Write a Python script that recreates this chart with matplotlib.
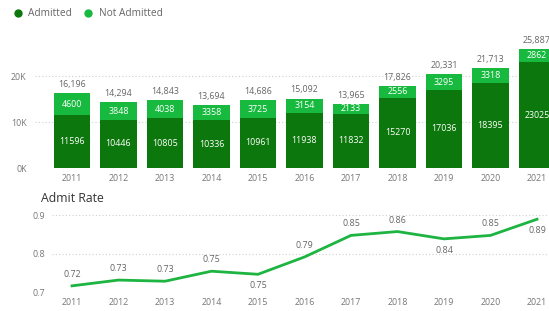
import matplotlib
matplotlib.use("Agg")
import matplotlib.pyplot as plt
from matplotlib.lines import Line2D

plt.rcParams['font.family'] = ['Open Sans', 'DejaVu Sans']

years = ['2011', '2012', '2013', '2014', '2015', '2016', '2017', '2018', '2019', '2020', '2021']
admitted = [11596, 10446, 10805, 10336, 10961, 11938, 11832, 15270, 17036, 18395, 23025]
not_admitted = [4600, 3848, 4038, 3358, 3725, 3154, 2133, 2556, 3295, 3318, 2862]
totals = [16196, 14294, 14843, 13694, 14686, 15092, 13965, 17826, 20331, 21713, 25887]
admit_rate = [0.716, 0.731, 0.728, 0.754, 0.746, 0.791, 0.847, 0.857, 0.838, 0.847, 0.889]
rate_label_pos = ['above', 'above', 'above', 'above', 'below', 'above', 'above', 'above', 'below', 'above', 'below']

DARK = '#0c770c'
LIGHT = '#17b93f'
LINE = '#1db441'
TICK = '#777777'
GRID = '#cfcfcf'

W, H = 549, 311
fig = plt.figure(figsize=(W / 100, H / 100), dpi=100)

def px_axes(left, top, right, bottom):
    return fig.add_axes([left / W, 1 - bottom / H, (right - left) / W, (bottom - top) / H])

x = list(range(len(years)))
spacing = 46.5
x0 = 72

# ---- top bar chart ----
ax = px_axes(35, 30, 570, 168)
ax.set_xlim((35 - x0) / spacing, (570 - x0) / spacing)
ax.set_ylim(0, 30000)
ax.bar(x, admitted, width=0.79, color=DARK, zorder=2)
ax.bar(x, not_admitted, width=0.79, bottom=admitted, color=LIGHT, zorder=2)
for i in x:
    ax.text(i, admitted[i] / 2, str(admitted[i]), ha='center', va='center',
            color='white', fontsize=6.4, zorder=3)
    ax.text(i, admitted[i] + not_admitted[i] / 2, str(not_admitted[i]), ha='center',
            va='center', color='white', fontsize=6.4, zorder=3)
    ax.annotate(f"{totals[i]:,}", (i, totals[i]), xytext=(0, 3), textcoords='offset points',
                ha='center', va='bottom', color='#666666', fontsize=6.4)
ax.set_yticks([0, 10000, 20000])
ax.set_yticklabels(['0K', '10K', '20K'])
ax.set_xticks(x)
ax.set_xticklabels(years)
ax.grid(axis='y', linestyle=(0, (1, 2)), color=GRID, linewidth=0.8, zorder=0)
for s in ax.spines.values():
    s.set_visible(False)
ax.tick_params(length=0, colors=TICK, labelsize=6.4)
ax.tick_params(axis='y', pad=6)
ax.tick_params(axis='x', pad=4)

# ---- bottom line chart ----
ax2 = px_axes(52, 215, 570, 292)
ax2.set_xlim((52 - x0) / spacing, (570 - x0) / spacing)
ax2.set_ylim(0.7, 0.9)
ax2.plot(x, admit_rate, color=LINE, linewidth=2, clip_on=False, zorder=3)
for i in x:
    if rate_label_pos[i] == 'above':
        off, va = 5, 'bottom'
    else:
        off, va = -5, 'top'
    ax2.annotate(f"{admit_rate[i]:.2f}", (i, admit_rate[i]), xytext=(0, off),
                 textcoords='offset points', ha='center', va=va, color='#666666', fontsize=6.4)
ax2.set_yticks([0.7, 0.8, 0.9])
ax2.set_yticklabels(['0.7', '0.8', '0.9'])
ax2.set_xticks(x)
ax2.set_xticklabels(years)
ax2.grid(axis='y', linestyle=(0, (1, 2)), color=GRID, linewidth=0.8, zorder=0)
for s in ax2.spines.values():
    s.set_visible(False)
ax2.tick_params(length=0, colors=TICK, labelsize=6.4)
ax2.tick_params(axis='y', pad=5)
ax2.tick_params(axis='x', pad=4)

fig.text(41 / W, 1 - 198 / H, 'Admit Rate', fontsize=8.8, color='#333333', va='center', ha='left')

handles = [Line2D([], [], marker='o', linestyle='', color=DARK, markersize=5),
           Line2D([], [], marker='o', linestyle='', color=LIGHT, markersize=5)]
fig.legend(handles, ['Admitted', 'Not Admitted'], loc='center left',
           bbox_to_anchor=(8 / W, 1 - 14 / H), ncol=2, frameon=False,
           fontsize=7.3, handletextpad=0.0, columnspacing=0.6, labelcolor='#666666',
           borderaxespad=0, borderpad=0)

fig.savefig('out.png', dpi=100)
